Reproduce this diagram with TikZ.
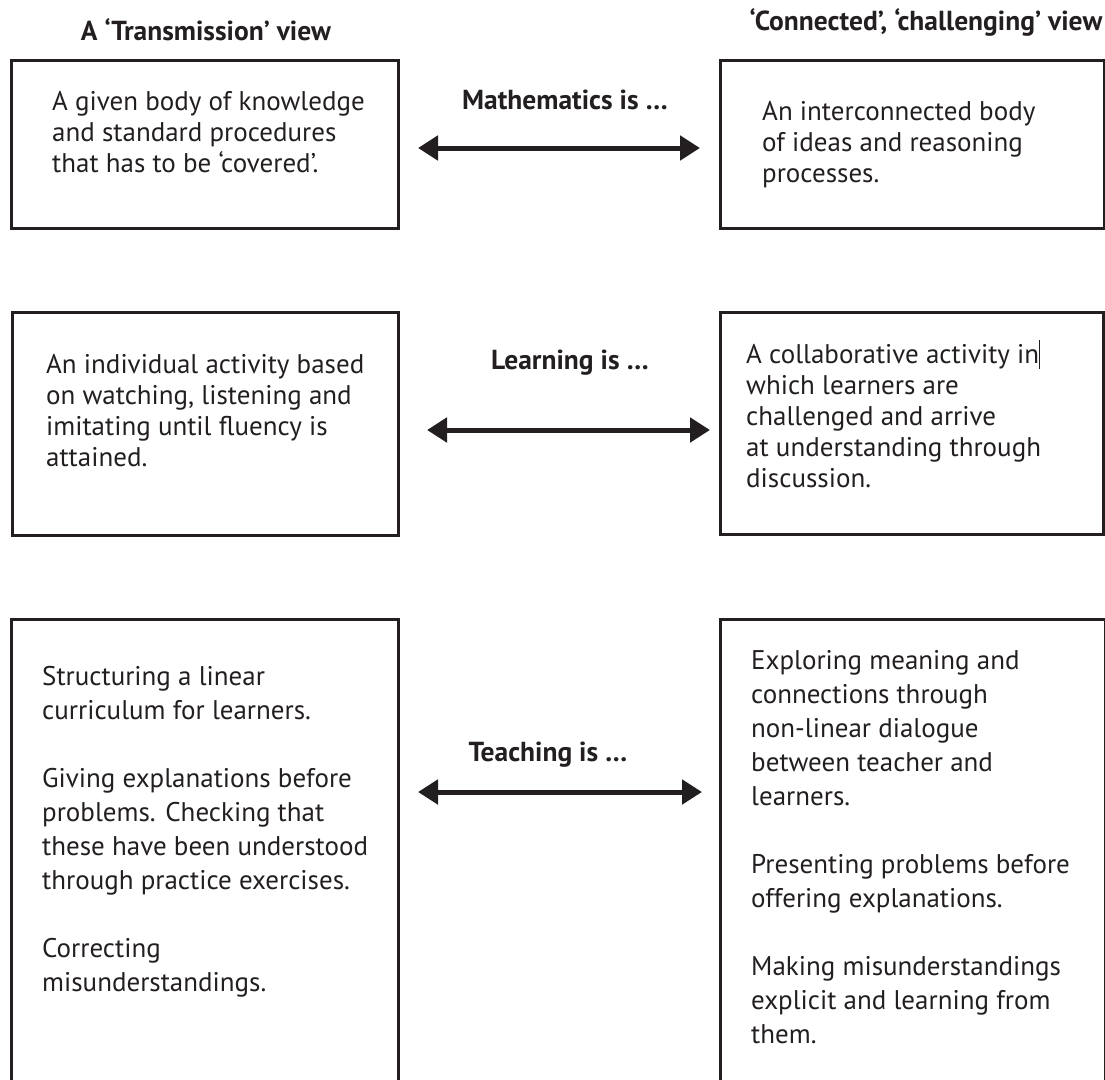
\documentclass[tikz,border=0pt]{standalone}
\usepackage{fontspec}
\setmainfont{PT Sans}
\usetikzlibrary{arrows.meta}
\definecolor{ink}{HTML}{231F20}
\begin{document}
\begin{tikzpicture}[x=1pt,y=-1pt,
  box/.style={draw=ink, line width=2.6pt, inner sep=0pt, anchor=north west},
  body/.style={anchor=north west, align=left, inner sep=0pt, text=ink, font=\fontsize{27}{31}\selectfont},
  bodyb/.style={body, font=\fontsize{27}{34}\selectfont},
  head/.style={inner sep=0pt, text=ink, font=\bfseries\fontsize{27.5}{30}\selectfont},
  dbl/.style={{Triangle[length=20pt,width=24pt]}-{Triangle[length=20pt,width=24pt]}, line width=5pt, draw=ink}]
\useasboundingbox (0,0) rectangle (1105,1079);
\clip (0,0) rectangle (1105,1079);
% headings
\node[head] (h1) at (206,30) {A ‘Transmission’ view};
\node[head] (h2) at (926,22) {‘Connected’, ‘challenging’ view};
% row 1
\node[box, minimum width=387pt, minimum height=168pt] (b1) at (10,59) {};
\node[box, minimum width=384pt, minimum height=168pt] (b2) at (719,59) {};
\node[body] (t1) at (52,91) {A given body of knowledge\\and standard procedures\\that has to be ‘covered’.};
\node[body] (t2) at (762,101) {An interconnected body\\of ideas and reasoning\\processes.};
\node[head] (m1) at (565,100) {Mathematics is …};
\coordinate (a1l) at (418,148);
\coordinate (a1r) at (700,148);
\draw[dbl] (a1l) -- (a1r);
% row 2
\node[box, minimum width=386pt, minimum height=223pt] (b3) at (11,311) {};
\node[box, minimum width=383pt, minimum height=222pt] (b4) at (719,311) {};
\node[body] (t3) at (46,354) {An individual activity based\\on watching, listening and\\imitating until fluency is\\attained.};
\node[body] (t4) at (746,340) {A collaborative activity in\rule[-0.2em]{1.2pt}{1.05em}\\which learners are\\challenged and arrive\\at understanding through\\discussion.};
\node[head] (m2) at (570,363) {Learning is …};
\coordinate (a2l) at (427,430);
\coordinate (a2r) at (710,430);
\draw[dbl] (a2l) -- (a2r);
% row 3
\node[box, minimum width=387pt, minimum height=520pt] (b5) at (10,618) {};
\node[box, minimum width=385pt, minimum height=520pt] (b6) at (719,618) {};
\node[bodyb] (t5) at (42,666) {Structuring a linear\\curriculum for learners.\\[34pt]Giving explanations before\\problems. Checking that\\these have been understood\\through practice exercises.\\[34pt]Correcting\\misunderstandings.};
\node[bodyb] (t6) at (751,650) {Exploring meaning and\\connections through\\non-linear dialogue\\between teacher and\\learners.\\[34pt]Presenting problems before\\offering explanations.\\[34pt]Making misunderstandings\\explicit and learning from\\them.};
\node[head] (m3) at (548,755) {Teaching is …};
\coordinate (a3l) at (418,792);
\coordinate (a3r) at (702,792);
\draw[dbl] (a3l) -- (a3r);
\end{tikzpicture}
\end{document}
